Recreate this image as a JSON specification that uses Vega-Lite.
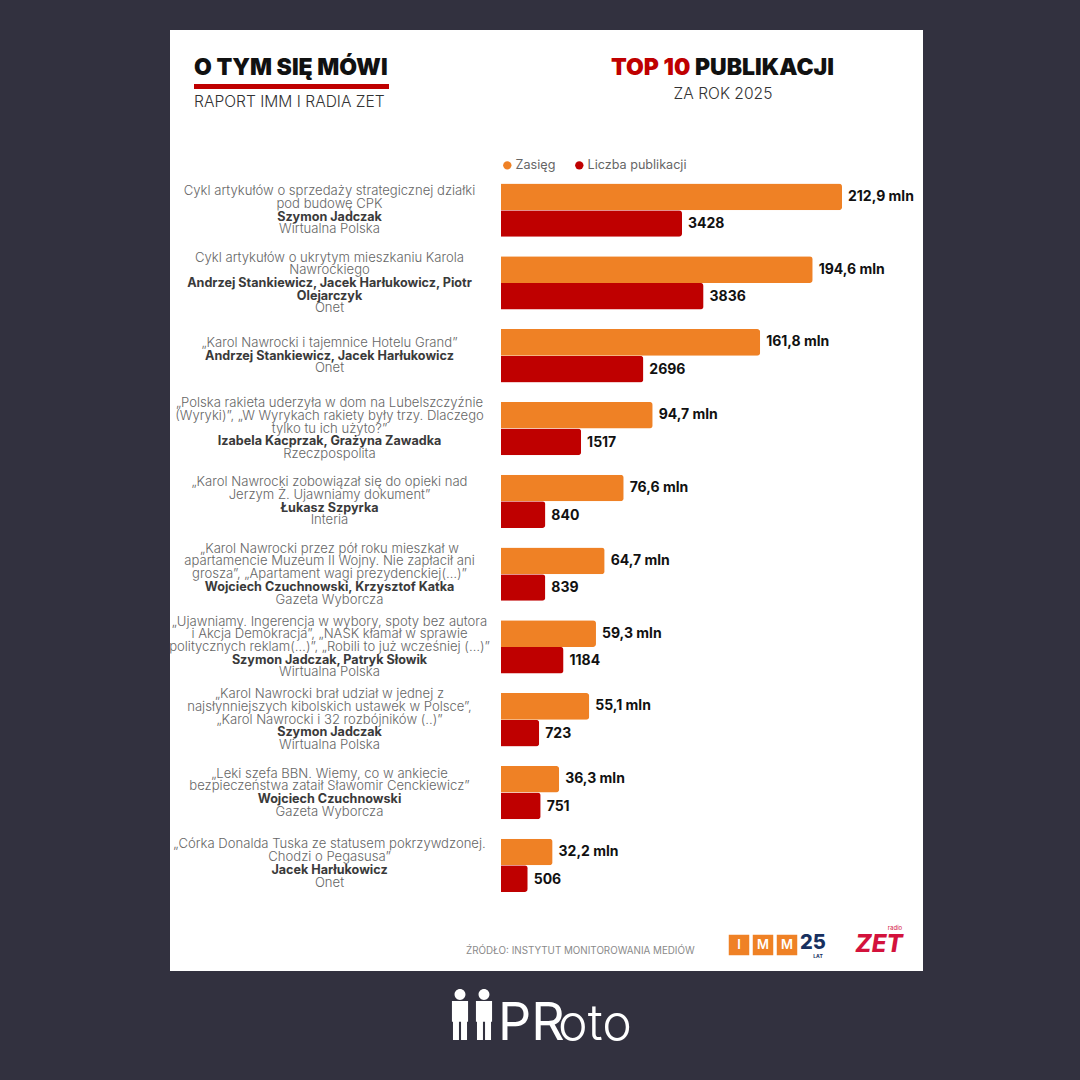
{
  "$schema": "https://vega.github.io/schema/vega-lite/v6.json",
  "width": 753,
  "height": 941,
  "autosize": {"type": "none"},
  "padding": {"left": 170, "top": 30, "right": 157, "bottom": 109},
  "background": "#32313f",
  "config": {
    "view": {"fill": "#ffffff", "stroke": null},
    "font": "Inter",
    "legend": {"labelFont": "Inter"}
  },
  "datasets": {
    "slupki": [
      {"nr": 1, "miara": "Zasięg", "wartosc": 212.9, "etykieta": "212,9 mln"},
      {"nr": 2, "miara": "Zasięg", "wartosc": 194.6, "etykieta": "194,6 mln"},
      {"nr": 3, "miara": "Zasięg", "wartosc": 161.8, "etykieta": "161,8 mln"},
      {"nr": 4, "miara": "Zasięg", "wartosc": 94.7, "etykieta": "94,7 mln"},
      {"nr": 5, "miara": "Zasięg", "wartosc": 76.6, "etykieta": "76,6 mln"},
      {"nr": 6, "miara": "Zasięg", "wartosc": 64.7, "etykieta": "64,7 mln"},
      {"nr": 7, "miara": "Zasięg", "wartosc": 59.3, "etykieta": "59,3 mln"},
      {"nr": 8, "miara": "Zasięg", "wartosc": 55.1, "etykieta": "55,1 mln"},
      {"nr": 9, "miara": "Zasięg", "wartosc": 36.3, "etykieta": "36,3 mln"},
      {"nr": 10, "miara": "Zasięg", "wartosc": 32.2, "etykieta": "32,2 mln"},
      {"nr": 1, "miara": "Liczba publikacji", "wartosc": 3428, "etykieta": "3428"},
      {"nr": 2, "miara": "Liczba publikacji", "wartosc": 3836, "etykieta": "3836"},
      {"nr": 3, "miara": "Liczba publikacji", "wartosc": 2696, "etykieta": "2696"},
      {"nr": 4, "miara": "Liczba publikacji", "wartosc": 1517, "etykieta": "1517"},
      {"nr": 5, "miara": "Liczba publikacji", "wartosc": 840, "etykieta": "840"},
      {"nr": 6, "miara": "Liczba publikacji", "wartosc": 839, "etykieta": "839"},
      {"nr": 7, "miara": "Liczba publikacji", "wartosc": 1184, "etykieta": "1184"},
      {"nr": 8, "miara": "Liczba publikacji", "wartosc": 723, "etykieta": "723"},
      {"nr": 9, "miara": "Liczba publikacji", "wartosc": 751, "etykieta": "751"},
      {"nr": 10, "miara": "Liczba publikacji", "wartosc": 506, "etykieta": "506"}
    ],
    "linie": [
      {"nr": 1, "linia": -1.5, "rodzaj": "opis", "tekst": "Cykl artykułów o sprzedaży strategicznej działki"},
      {"nr": 1, "linia": -0.5, "rodzaj": "opis", "tekst": "pod budowę CPK"},
      {"nr": 1, "linia": 0.5, "rodzaj": "autor", "tekst": "Szymon Jadczak"},
      {"nr": 1, "linia": 1.5, "rodzaj": "opis", "tekst": "Wirtualna Polska"},
      {"nr": 2, "linia": -2, "rodzaj": "opis", "tekst": "Cykl artykułów o ukrytym mieszkaniu Karola"},
      {"nr": 2, "linia": -1, "rodzaj": "opis", "tekst": "Nawrockiego"},
      {"nr": 2, "linia": 0, "rodzaj": "autor", "tekst": "Andrzej Stankiewicz, Jacek Harłukowicz, Piotr"},
      {"nr": 2, "linia": 1, "rodzaj": "autor", "tekst": "Olejarczyk"},
      {"nr": 2, "linia": 2, "rodzaj": "opis", "tekst": "Onet"},
      {"nr": 3, "linia": -1, "rodzaj": "opis", "tekst": "„Karol Nawrocki i tajemnice Hotelu Grand”"},
      {"nr": 3, "linia": 0, "rodzaj": "autor", "tekst": "Andrzej Stankiewicz, Jacek Harłukowicz"},
      {"nr": 3, "linia": 1, "rodzaj": "opis", "tekst": "Onet"},
      {"nr": 4, "linia": -2, "rodzaj": "opis", "tekst": "„Polska rakieta uderzyła w dom na Lubelszczyźnie"},
      {"nr": 4, "linia": -1, "rodzaj": "opis", "tekst": "(Wyryki)”, „W Wyrykach rakiety były trzy. Dlaczego"},
      {"nr": 4, "linia": 0, "rodzaj": "opis", "tekst": "tylko tu ich użyto?”"},
      {"nr": 4, "linia": 1, "rodzaj": "autor", "tekst": "Izabela Kacprzak, Grażyna Zawadka"},
      {"nr": 4, "linia": 2, "rodzaj": "opis", "tekst": "Rzeczpospolita"},
      {"nr": 5, "linia": -1.5, "rodzaj": "opis", "tekst": "„Karol Nawrocki zobowiązał się do opieki nad"},
      {"nr": 5, "linia": -0.5, "rodzaj": "opis", "tekst": "Jerzym Ż. Ujawniamy dokument”"},
      {"nr": 5, "linia": 0.5, "rodzaj": "autor", "tekst": "Łukasz Szpyrka"},
      {"nr": 5, "linia": 1.5, "rodzaj": "opis", "tekst": "Interia"},
      {"nr": 6, "linia": -2, "rodzaj": "opis", "tekst": "„Karol Nawrocki przez pół roku mieszkał w"},
      {"nr": 6, "linia": -1, "rodzaj": "opis", "tekst": "apartamencie Muzeum II Wojny. Nie zapłacił ani"},
      {"nr": 6, "linia": 0, "rodzaj": "opis", "tekst": "grosza”, „Apartament wagi prezydenckiej(…)”"},
      {"nr": 6, "linia": 1, "rodzaj": "autor", "tekst": "Wojciech Czuchnowski, Krzysztof Katka"},
      {"nr": 6, "linia": 2, "rodzaj": "opis", "tekst": "Gazeta Wyborcza"},
      {"nr": 7, "linia": -2, "rodzaj": "opis", "tekst": "„Ujawniamy. Ingerencja w wybory, spoty bez autora"},
      {"nr": 7, "linia": -1, "rodzaj": "opis", "tekst": "i Akcja Demokracja”, „NASK kłamał w sprawie"},
      {"nr": 7, "linia": 0, "rodzaj": "opis", "tekst": "politycznych reklam(…)”, „Robili to już wcześniej (…)”"},
      {"nr": 7, "linia": 1, "rodzaj": "autor", "tekst": "Szymon Jadczak, Patryk Słowik"},
      {"nr": 7, "linia": 2, "rodzaj": "opis", "tekst": "Wirtualna Polska"},
      {"nr": 8, "linia": -2, "rodzaj": "opis", "tekst": "„Karol Nawrocki brał udział w jednej z"},
      {"nr": 8, "linia": -1, "rodzaj": "opis", "tekst": "najsłynniejszych kibolskich ustawek w Polsce”,"},
      {"nr": 8, "linia": 0, "rodzaj": "opis", "tekst": "„Karol Nawrocki i 32 rozbójników (..)”"},
      {"nr": 8, "linia": 1, "rodzaj": "autor", "tekst": "Szymon Jadczak"},
      {"nr": 8, "linia": 2, "rodzaj": "opis", "tekst": "Wirtualna Polska"},
      {"nr": 9, "linia": -1.5, "rodzaj": "opis", "tekst": "„Leki szefa BBN. Wiemy, co w ankiecie"},
      {"nr": 9, "linia": -0.5, "rodzaj": "opis", "tekst": "bezpieczeństwa zataił Sławomir Cenckiewicz”"},
      {"nr": 9, "linia": 0.5, "rodzaj": "autor", "tekst": "Wojciech Czuchnowski"},
      {"nr": 9, "linia": 1.5, "rodzaj": "opis", "tekst": "Gazeta Wyborcza"},
      {"nr": 10, "linia": -1.65, "rodzaj": "opis", "tekst": "„Córka Donalda Tuska ze statusem pokrzywdzonej."},
      {"nr": 10, "linia": -0.65, "rodzaj": "opis", "tekst": "Chodzi o Pegasusa”"},
      {"nr": 10, "linia": 0.35, "rodzaj": "autor", "tekst": "Jacek Harłukowicz"},
      {"nr": 10, "linia": 1.35, "rodzaj": "opis", "tekst": "Onet"}
    ],
    "napisy": [
      {"rola": "tytul", "tekst": "O TYM SIĘ MÓWI", "kolumna": 0, "wiersz": 0},
      {"rola": "tytul", "tekst": "PUBLIKACJI", "kolumna": 9, "wiersz": 0},
      {"rola": "top", "tekst": "TOP 10", "kolumna": 8, "wiersz": 0},
      {"rola": "podtytul", "tekst": "RAPORT IMM I RADIA ZET", "kolumna": 0, "wiersz": 3},
      {"rola": "rok", "tekst": "ZA ROK 2025", "kolumna": 10, "wiersz": 2},
      {"rola": "zrodlo", "tekst": "ŹRÓDŁO: INSTYTUT MONITOROWANIA MEDIÓW", "kolumna": 3, "wiersz": 6},
      {"rola": "imm", "tekst": "I", "kolumna": 11, "wiersz": 5},
      {"rola": "imm", "tekst": "M", "kolumna": 12, "wiersz": 5},
      {"rola": "imm", "tekst": "M", "kolumna": 13, "wiersz": 5},
      {"rola": "lata", "tekst": "25", "kolumna": 14, "wiersz": 5},
      {"rola": "lat", "tekst": "LAT", "kolumna": 14, "wiersz": 7},
      {"rola": "zet", "tekst": "ZET", "kolumna": 15, "wiersz": 5},
      {"rola": "radio", "tekst": "radio", "kolumna": 16, "wiersz": 4},
      {"rola": "ludzik", "kolumna": 2, "wiersz": 8},
      {"rola": "ludzik", "kolumna": 4, "wiersz": 8},
      {"rola": "pr", "tekst": "PR", "kolumna": 5, "wiersz": 9},
      {"rola": "oto", "tekst": "oto", "kolumna": 7, "wiersz": 9}
    ]
  },
  "resolve": {"scale": {"x": "independent", "y": "independent"}},
  "layer": [
    {
      "data": {"name": "slupki"},
      "transform": [{"filter": "datum.miara == 'Zasięg'"}],
      "encoding": {
        "x": {"field": "wartosc", "type": "quantitative", "axis": null,
              "scale": {"domain": [0, 212.9], "range": [331, 672]}},
        "y": {"field": "nr", "type": "ordinal", "axis": null,
              "scale": {"type": "band", "domain": [1, 2, 3, 4, 5, 6, 7, 8, 9, 10], "range": [143.75, 871.75], "paddingInner": 0.268, "paddingOuter": 0.134}},
        "yOffset": {"field": "miara", "type": "nominal",
                    "scale": {"domain": ["Zasięg", "Liczba publikacji"], "paddingInner": 0, "paddingOuter": 0}}
      },
      "layer": [
        {
          "mark": {"type": "bar", "cornerRadiusEnd": 3},
          "encoding": {
            "color": {"field": "miara", "type": "nominal",
                      "scale": {"domain": ["Zasięg", "Liczba publikacji"], "range": ["#ef8125", "#bf0000"]},
                      "legend": {"title": null, "orient": "none", "legendX": 331, "legendY": 129, "direction": "horizontal",
                                 "symbolType": "circle", "symbolSize": 70, "labelFontSize": 12.6, "labelColor": "#666666", "labelOffset": 2, "columnPadding": 17}}
          }
        },
        {
          "mark": {"type": "text", "align": "left", "dx": 6, "fontSize": 14, "fontWeight": 700, "color": "#111111"},
          "encoding": {"text": {"field": "etykieta"}}
        }
      ]
    },
    {
      "data": {"name": "slupki"},
      "transform": [{"filter": "datum.miara == 'Liczba publikacji'"}],
      "encoding": {
        "x": {"field": "wartosc", "type": "quantitative", "axis": null,
              "scale": {"domain": [0, 3428], "range": [331, 512]}},
        "y": {"field": "nr", "type": "ordinal", "axis": null,
              "scale": {"type": "band", "domain": [1, 2, 3, 4, 5, 6, 7, 8, 9, 10], "range": [143.75, 871.75], "paddingInner": 0.268, "paddingOuter": 0.134}},
        "yOffset": {"field": "miara", "type": "nominal",
                    "scale": {"domain": ["Zasięg", "Liczba publikacji"], "paddingInner": 0, "paddingOuter": 0}}
      },
      "layer": [
        {
          "mark": {"type": "bar", "cornerRadiusEnd": 3},
          "encoding": {
            "color": {"field": "miara", "type": "nominal",
                      "scale": {"domain": ["Zasięg", "Liczba publikacji"], "range": ["#ef8125", "#bf0000"]}}
          }
        },
        {
          "mark": {"type": "text", "align": "left", "dx": 6, "dy": 1, "fontSize": 14, "fontWeight": 700, "color": "#111111"},
          "encoding": {"text": {"field": "etykieta"}}
        }
      ]
    },
    {
      "data": {"name": "linie"},
      "encoding": {
        "x": {"datum": "opis", "type": "nominal", "axis": null, "scale": {"domain": ["opis"], "range": [0, 319]}},
        "y": {"field": "nr", "type": "ordinal", "axis": null,
              "scale": {"type": "band", "domain": [1, 2, 3, 4, 5, 6, 7, 8, 9, 10], "range": [143.75, 871.75], "paddingInner": 0.268, "paddingOuter": 0.134}},
        "yOffset": {"field": "linia", "type": "quantitative", "scale": {"domain": [-2, 2], "range": [1.25, 52.05]}},
        "text": {"field": "tekst"}
      },
      "layer": [
        {
          "transform": [{"filter": "datum.rodzaj == 'opis'"}],
          "mark": {"type": "text", "align": "center", "baseline": "middle", "fontSize": 13.1, "fontWeight": 300, "color": "#666666"}
        },
        {
          "transform": [{"filter": "datum.rodzaj == 'autor'"}],
          "mark": {"type": "text", "align": "center", "baseline": "middle", "fontSize": 12.6, "fontWeight": 700, "color": "#3a3a3a"}
        }
      ]
    },
    {
      "data": {"name": "napisy"},
      "encoding": {
        "x": {"field": "kolumna", "type": "quantitative", "axis": null,
              "scale": {"domain": [0, 1, 2, 3, 4, 5, 6, 7, 8, 9, 10, 11, 12, 13, 14, 15, 16],
                        "range": [24, 219, 290, 296, 314, 328, 358, 388, 441, 525, 553, 569, 593, 617, 643, 709, 725]}},
        "y": {"field": "wiersz", "type": "quantitative", "axis": null,
              "scale": {"domain": [0, 1, 2, 3, 4, 5, 6, 7, 8, 9],
                        "range": [38, 56.5, 64, 72, 901, 915, 921, 926, 984, 1010]}}
      },
      "layer": [
        {
          "data": {"values": [{"kolumna": 0, "koniec": 1, "wiersz": 1}]},
          "mark": {"type": "rule", "color": "#bf0000", "strokeWidth": 5},
          "encoding": {"x2": {"field": "koniec"}}
        },
        {
          "transform": [{"filter": "datum.rola == 'tytul'"}],
          "mark": {"type": "text", "align": "left", "baseline": "middle", "fontSize": 23, "fontWeight": 900, "color": "#111111"},
          "encoding": {"text": {"field": "tekst"}}
        },
        {
          "transform": [{"filter": "datum.rola == 'top'"}],
          "mark": {"type": "text", "align": "left", "baseline": "middle", "fontSize": 23, "fontWeight": 900, "color": "#bf0000"},
          "encoding": {"text": {"field": "tekst"}}
        },
        {
          "transform": [{"filter": "datum.rola == 'podtytul'"}],
          "mark": {"type": "text", "align": "left", "baseline": "middle", "fontSize": 15.6, "fontWeight": 300, "color": "#333333"},
          "encoding": {"text": {"field": "tekst"}}
        },
        {
          "transform": [{"filter": "datum.rola == 'rok'"}],
          "mark": {"type": "text", "align": "center", "baseline": "middle", "fontSize": 15.6, "fontWeight": 300, "color": "#333333"},
          "encoding": {"text": {"field": "tekst"}}
        },
        {
          "transform": [{"filter": "datum.rola == 'zrodlo'"}],
          "mark": {"type": "text", "align": "left", "baseline": "middle", "fontSize": 9.8, "color": "#8a8a8a"},
          "encoding": {"text": {"field": "tekst"}}
        },
        {
          "transform": [{"filter": "datum.rola == 'imm'"}],
          "mark": {"type": "point", "shape": "square", "filled": true, "opacity": 1, "size": 420, "color": "#ef8125"}
        },
        {
          "transform": [{"filter": "datum.rola == 'imm'"}],
          "mark": {"type": "text", "align": "center", "baseline": "middle", "fontSize": 13, "fontWeight": 600, "color": "#ffffff"},
          "encoding": {"text": {"field": "tekst"}}
        },
        {
          "transform": [{"filter": "datum.rola == 'lata'"}],
          "mark": {"type": "text", "align": "center", "baseline": "middle", "dy": -2, "fontSize": 20, "fontWeight": 800, "color": "#17305f"},
          "encoding": {"text": {"field": "tekst"}}
        },
        {
          "transform": [{"filter": "datum.rola == 'lat'"}],
          "mark": {"type": "text", "align": "center", "baseline": "middle", "dx": 5, "fontSize": 5, "fontWeight": 700, "color": "#17305f"},
          "encoding": {"text": {"field": "tekst"}}
        },
        {
          "transform": [{"filter": "datum.rola == 'zet'"}],
          "mark": {"type": "text", "align": "center", "baseline": "middle", "fontSize": 24, "fontWeight": 800, "fontStyle": "italic", "color": "#d3123c"},
          "encoding": {"text": {"field": "tekst"}}
        },
        {
          "transform": [{"filter": "datum.rola == 'radio'"}],
          "mark": {"type": "text", "align": "center", "baseline": "bottom", "fontSize": 6, "color": "#d3123c"},
          "encoding": {"text": {"field": "tekst"}}
        },
        {
          "transform": [{"filter": "datum.rola == 'ludzik'"}],
          "mark": {"type": "point", "filled": true, "opacity": 1, "size": 2704, "color": "#ffffff",
                   "shape": "M-0.21 -0.75A0.21 0.21 0 1 0 0.21 -0.75A0.21 0.21 0 1 0 -0.21 -0.75ZM-0.31 -0.5L0.31 -0.5L0.31 0.3L0.27 0.3L0.27 1L0.04 1L0.04 0.3L-0.04 0.3L-0.04 1L-0.27 1L-0.27 0.3L-0.31 0.3Z"}
        },
        {
          "transform": [{"filter": "datum.rola == 'pr'"}],
          "mark": {"type": "text", "align": "left", "baseline": "alphabetic", "fontSize": 52, "fontWeight": 400, "color": "#ffffff"},
          "encoding": {"text": {"field": "tekst"}}
        },
        {
          "transform": [{"filter": "datum.rola == 'oto'"}],
          "mark": {"type": "text", "align": "left", "baseline": "alphabetic", "fontSize": 50, "fontWeight": 300, "color": "#ffffff"},
          "encoding": {"text": {"field": "tekst"}}
        }
      ]
    }
  ]
}
